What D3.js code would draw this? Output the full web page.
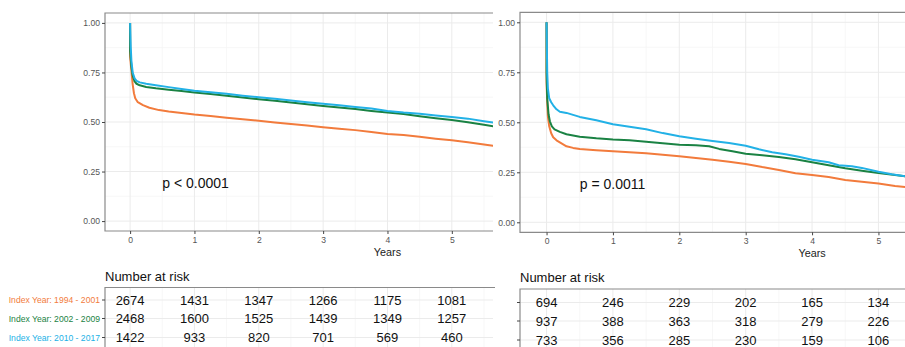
<!DOCTYPE html>
<html>
<head>
<meta charset="utf-8">
<script src="https://cdn.jsdelivr.net/npm/d3@7"></script>
<style>
  html, body { margin: 0; padding: 0; background: #ffffff; }
  svg { display: block; font-family: "Liberation Sans", Arial, sans-serif; }
</style>
</head>
<body>
<svg id="chart" width="905" height="347"></svg>
<script>
// Survival curves by index-year cohort: [years, survival probability]
const groupLabels = ["Index Year: 1994 - 2001", "Index Year: 2002 - 2009", "Index Year: 2010 - 2017"];
const groupColors = ["#f27b3c", "#1a8243", "#22b1e6"];
const yearTicks = [0, 1, 2, 3, 4, 5];
const survTicks = [0, 0.25, 0.5, 0.75, 1];

const left1994 = [[0,1],[0,0.83],[0.02,0.76],[0.04,0.69],[0.06,0.645],[0.08,0.62],[0.12,0.60],[0.2,0.585],[0.3,0.572],[0.45,0.56],[0.6,0.553],[0.8,0.546],[1,0.538],[1.25,0.53],[1.5,0.522],[1.75,0.514],[2,0.506],[2.25,0.498],[2.5,0.49],[2.75,0.482],[3,0.474],[3.25,0.466],[3.5,0.459],[3.75,0.449],[4,0.44],[4.25,0.434],[4.5,0.425],[4.75,0.416],[5,0.408],[5.25,0.398],[5.5,0.387],[5.7,0.377]];
const left2002 = [[0,1],[0,0.86],[0.02,0.78],[0.04,0.735],[0.07,0.705],[0.1,0.693],[0.15,0.685],[0.25,0.677],[0.4,0.67],[0.6,0.663],[0.8,0.656],[1,0.649],[1.25,0.641],[1.5,0.632],[1.75,0.624],[2,0.615],[2.25,0.607],[2.5,0.598],[2.75,0.59],[3,0.581],[3.25,0.573],[3.5,0.565],[3.75,0.556],[4,0.548],[4.25,0.54],[4.5,0.529],[4.75,0.519],[5,0.51],[5.25,0.499],[5.5,0.486],[5.7,0.476]];
const left2010 = [[0,1],[0.01,0.88],[0.02,0.81],[0.04,0.75],[0.07,0.72],[0.1,0.708],[0.15,0.7],[0.25,0.693],[0.4,0.686],[0.6,0.676],[0.8,0.667],[1,0.658],[1.25,0.65],[1.5,0.642],[1.75,0.633],[2,0.625],[2.25,0.617],[2.5,0.609],[2.75,0.6],[3,0.592],[3.25,0.584],[3.5,0.576],[3.75,0.568],[4,0.556],[4.25,0.548],[4.5,0.542],[4.75,0.533],[5,0.525],[5.25,0.517],[5.5,0.504],[5.7,0.494]];

const right1994 = [[0,1],[0,0.7],[0.01,0.6],[0.02,0.53],[0.04,0.48],[0.07,0.445],[0.1,0.425],[0.15,0.41],[0.2,0.4],[0.3,0.38],[0.4,0.372],[0.5,0.366],[0.75,0.36],[1,0.355],[1.25,0.35],[1.5,0.345],[1.75,0.338],[2,0.33],[2.25,0.322],[2.5,0.313],[2.75,0.303],[3,0.292],[3.25,0.276],[3.5,0.262],[3.75,0.245],[4,0.237],[4.25,0.226],[4.5,0.212],[4.75,0.203],[5,0.194],[5.25,0.182],[5.45,0.175]];
const right2002 = [[0,1],[0,0.75],[0.01,0.62],[0.03,0.54],[0.05,0.505],[0.08,0.48],[0.12,0.465],[0.2,0.452],[0.3,0.44],[0.5,0.428],[0.75,0.42],[1,0.414],[1.25,0.41],[1.5,0.403],[1.75,0.395],[2,0.388],[2.25,0.385],[2.45,0.38],[2.6,0.367],[2.8,0.355],[3,0.343],[3.25,0.335],[3.5,0.326],[3.75,0.315],[4,0.3],[4.25,0.285],[4.5,0.27],[4.75,0.258],[5,0.246],[5.25,0.236],[5.45,0.228]];
const right2010 = [[0,1],[0.01,0.75],[0.02,0.67],[0.04,0.62],[0.07,0.6],[0.1,0.585],[0.15,0.565],[0.2,0.553],[0.3,0.547],[0.4,0.537],[0.5,0.527],[0.75,0.51],[1,0.49],[1.25,0.478],[1.5,0.465],[1.75,0.446],[2,0.43],[2.25,0.418],[2.5,0.407],[2.75,0.397],[3,0.383],[3.2,0.365],[3.4,0.35],[3.6,0.34],[3.8,0.328],[4,0.313],[4.25,0.3],[4.4,0.285],[4.6,0.28],[4.75,0.272],[5,0.253],[5.2,0.24],[5.45,0.228]];

// Number at risk at years 0..5
const leftRisk1994 = [2674, 1431, 1347, 1266, 1175, 1081];
const leftRisk2002 = [2468, 1600, 1525, 1439, 1349, 1257];
const leftRisk2010 = [1422, 933, 820, 701, 569, 460];
const rightRisk1994 = [694, 246, 229, 202, 165, 134];
const rightRisk2002 = [937, 388, 363, 318, 279, 226];
const rightRisk2010 = [733, 356, 285, 230, 159, 106];

const leftPval = "p < 0.0001";
const rightPval = "p = 0.0011";

const svg = d3.select("#chart");
const defs = svg.append("defs");

const panels = [
  { id: "L", x0: 105, x1: 493, y0: 13, y1: 231, xDom: [-0.39, 5.64],
    curves: [left1994, left2002, left2010], pval: leftPval,
    risk: [leftRisk1994, leftRisk2002, leftRisk2010],
    tableTop: 287.5, rowY: [300, 318.5, 337.5], titleY: 280.5, showLabels: true },
  { id: "R", x0: 520, x1: 905, y0: 12.3, y1: 232.3, xDom: [-0.4, 5.4],
    curves: [right1994, right2002, right2010], pval: rightPval,
    risk: [rightRisk1994, rightRisk2002, rightRisk2010],
    tableTop: 289, rowY: [302.5, 321, 340], titleY: 282, showLabels: false }
];

const majorGrid = "#ebebeb", minorGrid = "#f5f5f5", borderCol = "#8a8a8a", tickTxt = "#555555";

panels.forEach(p => {
  const x = d3.scaleLinear().domain(p.xDom).range([p.x0, p.x1]);
  const y = d3.scaleLinear().domain([-0.05, 1.05]).range([p.y1, p.y0]);
  const g = svg.append("g");

  defs.append("clipPath").attr("id", "clip" + p.id)
    .append("rect").attr("x", p.x0).attr("y", p.y0).attr("width", p.x1 - p.x0).attr("height", p.y1 - p.y0);

  // minor grid
  const minorX = d3.range(-0.5, p.xDom[1], 1).filter(v => v > p.xDom[0]);
  const minorY = [0.125, 0.375, 0.625, 0.875];
  g.selectAll(".mgx").data(minorX).join("line")
    .attr("x1", d => x(d)).attr("x2", d => x(d)).attr("y1", p.y0).attr("y2", p.y1)
    .attr("stroke", minorGrid).attr("stroke-width", 0.8);
  g.selectAll(".mgy").data(minorY).join("line")
    .attr("x1", p.x0).attr("x2", p.x1).attr("y1", d => y(d)).attr("y2", d => y(d))
    .attr("stroke", minorGrid).attr("stroke-width", 0.8);
  // major grid
  g.selectAll(".Mgx").data(yearTicks).join("line")
    .attr("x1", d => x(d)).attr("x2", d => x(d)).attr("y1", p.y0).attr("y2", p.y1)
    .attr("stroke", majorGrid).attr("stroke-width", 1);
  g.selectAll(".Mgy").data(survTicks).join("line")
    .attr("x1", p.x0).attr("x2", p.x1).attr("y1", d => y(d)).attr("y2", d => y(d))
    .attr("stroke", majorGrid).attr("stroke-width", 1);

  // curves
  const line = d3.line().x(d => x(d[0])).y(d => y(d[1])).curve(d3.curveLinear);
  g.append("g").attr("clip-path", `url(#clip${p.id})`)
    .selectAll("path").data(p.curves).join("path")
    .attr("d", line).attr("fill", "none")
    .attr("stroke", (d, i) => groupColors[i]).attr("stroke-width", 2)
    .attr("stroke-linejoin", "round");

  // panel border (top, left, bottom)
  g.append("path")
    .attr("d", `M${p.x1},${p.y0}H${p.x0}V${p.y1}H${p.x1}`)
    .attr("fill", "none").attr("stroke", borderCol).attr("stroke-width", 1.2);

  // axes
  const yAxis = d3.axisLeft(y).tickValues(survTicks).tickFormat(d3.format(".2f")).tickSize(3).tickPadding(2);
  const ya = g.append("g").attr("transform", `translate(${p.x0},0)`).call(yAxis);
  const xAxis = d3.axisBottom(x).tickValues(yearTicks).tickFormat(d3.format("d")).tickSize(3).tickPadding(3);
  const xa = g.append("g").attr("transform", `translate(0,${p.y1})`).call(xAxis);
  [ya, xa].forEach(a => {
    a.select(".domain").remove();
    a.selectAll(".tick line").attr("stroke", "#444");
    a.selectAll(".tick text").attr("fill", tickTxt).attr("font-size", 8.6)
      .attr("font-family", "Liberation Sans, Arial, sans-serif");
  });

  // axis title
  g.append("text").attr("x", x(4)).attr("y", p.y1 + 25)
    .attr("text-anchor", "middle").attr("font-size", 10.8).attr("fill", "#222").text("Years");

  // p-value
  g.append("text").attr("x", x(0.5)).attr("y", y(0.165))
    .attr("font-size", 14).attr("fill", "#111").text(p.pval);

  // risk table
  const t = svg.append("g");
  t.append("text").attr("x", p.x0).attr("y", p.titleY)
    .attr("font-size", 13).attr("fill", "#111").text("Number at risk");
  const tBottom = 360;
  t.selectAll(".tgx").data(minorX).join("line")
    .attr("x1", d => x(d)).attr("x2", d => x(d)).attr("y1", p.tableTop).attr("y2", tBottom)
    .attr("stroke", minorGrid).attr("stroke-width", 0.8);
  t.selectAll(".tMx").data(yearTicks).join("line")
    .attr("x1", d => x(d)).attr("x2", d => x(d)).attr("y1", p.tableTop).attr("y2", tBottom)
    .attr("stroke", majorGrid).attr("stroke-width", 1);
  t.selectAll(".tMy").data(p.rowY).join("line")
    .attr("x1", p.x0).attr("x2", p.x1).attr("y1", d => d).attr("y2", d => d)
    .attr("stroke", majorGrid).attr("stroke-width", 1);
  t.append("path")
    .attr("d", `M${p.id === "L" ? p.x1 + 2 : p.x1},${p.tableTop}H${p.x0}V${tBottom}`)
    .attr("fill", "none").attr("stroke", borderCol).attr("stroke-width", 1.2);
  // row ticks
  t.selectAll(".rtick").data(p.rowY).join("line")
    .attr("x1", p.x0 - 3).attr("x2", p.x0).attr("y1", d => d).attr("y2", d => d)
    .attr("stroke", "#444");
  if (p.showLabels) {
    t.selectAll(".rlab").data(groupLabels).join("text")
      .attr("x", p.x0 - 5).attr("y", (d, i) => p.rowY[i]).attr("dy", "0.35em")
      .attr("text-anchor", "end").attr("font-size", 8.6)
      .attr("fill", (d, i) => groupColors[i]).text(d => d);
  }
  p.risk.forEach((row, i) => {
    t.selectAll(".rv" + i).data(row).join("text")
      .attr("x", (d, j) => x(yearTicks[j])).attr("y", p.rowY[i]).attr("dy", "0.36em")
      .attr("text-anchor", "middle").attr("font-size", 13).attr("fill", "#111")
      .text(d => d);
  });
});
</script>
</body>
</html>
